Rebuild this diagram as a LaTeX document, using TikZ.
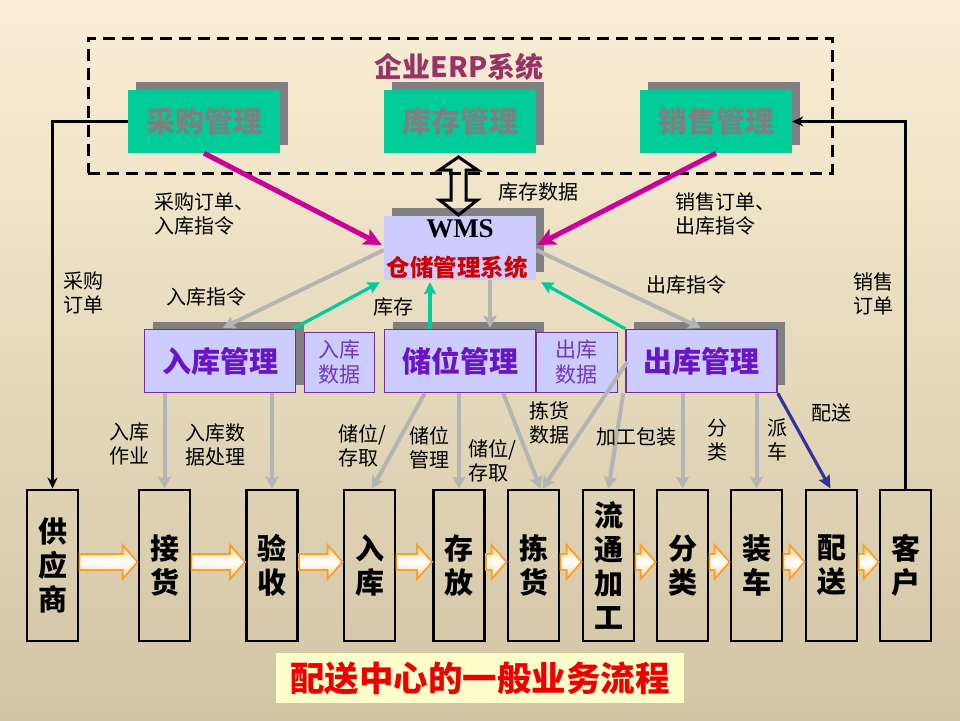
\documentclass[tikz,border=0pt]{standalone}
\usepackage{fontspec}
\setmainfont{Noto Sans CJK SC}
\newfontfamily\wmsfont{Liberation Serif}
\usetikzlibrary{arrows.meta,shadows,calc}
\definecolor{bgtop}{HTML}{FAEFD6}
\definecolor{bgbot}{HTML}{D2C5A4}
\definecolor{erpgreen}{HTML}{00CC99}
\definecolor{boxgray}{HTML}{7F7F7F}
\definecolor{shadowgray}{HTML}{808080}
\definecolor{lav}{HTML}{CCCCFF}
\definecolor{midborder}{HTML}{7030A0}
\definecolor{midtext}{HTML}{6A14C8}
\definecolor{smalltext}{HTML}{7038C0}
\definecolor{erptitle}{HTML}{993366}
\definecolor{wmsred}{HTML}{CC0000}
\definecolor{magentaarr}{HTML}{CC0099}
\definecolor{grayarr}{HTML}{B4B4B4}
\definecolor{greenarr}{HTML}{00CC99}
\definecolor{bluearr}{HTML}{333399}
\definecolor{orangeline}{HTML}{F7A030}
\definecolor{orangefill}{HTML}{FFD58C}
\definecolor{titlefill}{HTML}{FFFFCC}
\definecolor{titlered}{HTML}{EE0000}
\newcommand\blockarrow[2]{%
  \path[barrow] let \p1=(#1.east), \p2=(#2.west) in
    (\x1,{\y1+11.5pt}) -- ({\x2-15pt},{\y1+11.5pt}) -- ({\x2-15pt},{\y1+20.5pt})
    -- (\x2,{\y1+3.5pt}) -- ({\x2-15pt},{\y1-13.5pt}) -- ({\x2-15pt},{\y1-4.5pt})
    -- (\x1,{\y1-4.5pt}) -- cycle;}
\begin{document}
\begin{tikzpicture}[x=1pt,y=-1pt,
  myshadow/.style={general shadow={fill=shadowgray, shadow xshift=8pt, shadow yshift=8pt}},
  erpframe/.style={draw=black, line width=3pt, dash pattern=on 12pt off 7pt, minimum width=744pt, minimum height=135pt, inner sep=0pt},
  erptitlestyle/.style={text=erptitle, font=\bfseries\fontsize{28}{28}\selectfont, inner sep=0pt},
  topbox/.style={myshadow, fill=erpgreen, minimum width=152pt, minimum height=63pt, inner sep=0pt, text=boxgray, font=\bfseries\fontsize{29}{29}\selectfont},
  wmsbox/.style={myshadow, fill=lav, minimum width=152pt, minimum height=64pt, inner sep=0pt},
  midbox/.style={myshadow, fill=lav, draw=midborder, line width=1.5pt, minimum width=151pt, minimum height=63pt, inner sep=0pt, text=midtext, font=\bfseries\fontsize{29}{29}\selectfont},
  smallbox/.style={fill=lav, draw=midborder, line width=1pt, minimum height=60pt, inner sep=0pt, text=smalltext, font=\fontsize{21}{25}\selectfont, align=center},
  btbox/.style={draw=black, line width=2.8pt, minimum width=51pt, minimum height=151pt, inner sep=0pt, font=\bfseries\fontsize{29}{34}\selectfont, align=center},
  lbl/.style={inner sep=0pt, font=\fontsize{20}{24}\selectfont, align=center},
  lbll/.style={inner sep=0pt, font=\fontsize{20}{24}\selectfont, align=left, anchor=west},
  titlebox/.style={fill=titlefill, minimum width=408pt, minimum height=50pt, inner sep=0pt, text=titlered, font=\bfseries\fontsize{34.5}{34.5}\selectfont},
  barrow/.style={draw=orangeline, line width=1.8pt, line join=miter, top color=orangefill, bottom color=orangefill, middle color=white},
  blkarr/.style={draw=black, line width=3pt, -{Stealth[length=11pt,width=10pt]}},
  magarr/.style={draw=magentaarr, line width=5pt, -{Stealth[length=18pt,width=17pt,inset=4pt]}},
  grarr/.style={draw=grayarr, line width=4pt, -{Stealth[length=12pt,width=13pt,inset=2pt]}},
  gnarr/.style={draw=greenarr, line width=3.2pt, -{Stealth[length=12pt,width=12pt,inset=2pt]}},
  blarr/.style={draw=bluearr, line width=3.2pt, -{Stealth[length=13pt,width=12pt,inset=2pt]}},
]
\useasboundingbox (0,0) rectangle (960,720);
\shade[top color=bgtop, bottom color=bgbot] (0,0) rectangle (960,720);

% ERP frame
\node[erpframe] (erp) at (460,105.5) {};
\node[erptitlestyle] (erpt) at (459,67) {企业ERP系统};

% top boxes
\node[topbox] (cg) at (204,121.5) {采购管理};
\node[topbox] (kc) at (460,121.5) {库存管理};
\node[topbox] (xs) at (716,121.5) {销售管理};

% WMS
\node[wmsbox] (wms) at (460,248) {};
\node[font=\wmsfont\bfseries\fontsize{27}{27}\selectfont, inner sep=0pt] (wmst) at (460,229) {WMS};
\node[text=wmsred, font=\bfseries\fontsize{23.5}{24}\selectfont, inner sep=0pt] (wmsc) at (457,268) {仓储管理系统};

% double arrow between 库存管理 and WMS
\draw[black, line width=3pt, line join=miter]
  (458.5,157) -- (477.5,170) -- (466,170) -- (466,200) -- (477.5,200) -- (458.5,215)
  -- (439.5,200) -- (451,200) -- (451,170) -- (439.5,170) -- cycle;

% middle boxes
\node[midbox] (rk) at (220,361) {入库管理};
\node[midbox] (cw) at (460,361) {储位管理};
\node[midbox] (ck) at (701.5,361) {出库管理};
\node[smallbox, minimum width=70pt] (rkd) at (339,362) {入库\\数据};
\node[smallbox, minimum width=81pt] (ckd) at (576.5,362) {出库\\数据};

% bottom boxes
\node[btbox] (gys) at (52.5,565.5) {供\\应\\商};
\node[btbox] (jh) at (164.5,565.5) {接\\货};
\node[btbox] (ys) at (272,565.5) {验\\收};
\node[btbox] (rkb) at (369.5,565.5) {入\\库};
\node[btbox] (cf) at (459,565.5) {存\\放};
\node[btbox] (jhuo) at (533.5,565.5) {拣\\货};
\node[btbox] (lt) at (608.5,565.5) {流\\通\\加\\工};
\node[btbox] (fl) at (682.5,565.5) {分\\类};
\node[btbox] (zc) at (756.5,565.5) {装\\车};
\node[btbox] (ps) at (831.5,565.5) {配\\送};
\node[btbox] (kh) at (905.5,565.5) {客\\户};

% block arrows
\blockarrow{gys}{jh}
\blockarrow{jh}{ys}
\blockarrow{ys}{rkb}
\blockarrow{rkb}{cf}
\blockarrow{cf}{jhuo}
\blockarrow{jhuo}{lt}
\blockarrow{lt}{fl}
\blockarrow{fl}{zc}
\blockarrow{zc}{ps}
\blockarrow{ps}{kh}

% title
\node[titlebox] (title) at (480,678) {配送中心的一般业务流程};

% black order lines
\draw[blkarr] (cg.west) -| (gys.north);
\draw[blkarr] (kh.north) |- (xs.east);

% magenta arrows
\draw[magarr] (cg.south) -- ($(wms.west)+(-2,-3)$);
\draw[magarr] (xs.south) -- ($(wms.east)+(1,-3)$);

% gray arrows WMS -> middle
\draw[grarr] ($(wms.west)+(0,2)$) -- ($(rk.north)+(3,-1)$);
\draw[grarr] ($(wms.east)+(0,2)$) -- ($(ck.north)+(-1,-1)$);
\draw[grarr] ($(wms.south)+(30,0)$) -- ($(cw.north)+(30,-1)$);

% green arrows middle -> WMS
\draw[gnarr] ($(rk.north east)+(-3,0)$) -- ($(wms.south west)+(-4,2)$);
\draw[gnarr] ($(cw.north)+(-30,0)$) -- ($(wms.south)+(-30,2)$);
\draw[gnarr] (ck.north west) -- ($(wms.south east)+(5,2)$);

% gray arrows middle -> bottom
\draw[grarr] (rk.south -| jh.north) -- (jh.north);
\draw[grarr] (rk.south -| ys.north) -- (ys.north);
\draw[grarr] ($(cw.south west)+(41,0)$) -- ($(rkb.north)+(2.5,0)$);
\draw[grarr] (cw.south -| cf.north) -- (cf.north);
\draw[grarr] ($(cw.south east)+(-33,0)$) -- ($(jhuo.north)+(7,0)$);
\draw[grarr] ($(ck.west)+(2,1)$) -- ($(jhuo.north)+(9,0)$);
\draw[grarr] ($(ck.south west)+(-2,0)$) -- (lt.north);
\draw[grarr] (ck.south -| fl.north) -- (fl.north);
\draw[grarr] (ck.south -| zc.north) -- (zc.north);
\draw[blarr] (ck.south east) -- ($(ps.north)+(-1,0)$);

% labels
\node[lbl] (l1) at (83,293) {采购\\订单};
\node[lbl] (l2) at (873,293.5) {销售\\订单};
\node[lbll] (l3) at (154,213.5) {采购订单、\\入库指令};
\node[lbll] (l4) at (675,213.5) {销售订单、\\出库指令};
\node[lbll] (l5) at (498,192) {库存数据};
\node[lbl] (l6) at (206,297) {入库指令};
\node[lbl] (l7) at (393,307) {库存};
\node[lbl] (l8) at (686,285) {出库指令};
\node[lbl] (l9) at (129,444) {入库\\作业};
\node[lbll] (l10) at (185,445) {入库数\\据处理};
\node[lbll] (l11) at (338,445.5) {储位/\\存取};
\node[lbl] (l12) at (429,447.5) {储位\\管理};
\node[lbll] (l13) at (468,460.5) {储位/\\存取};
\node[lbl] (l14) at (549,422.5) {拣货\\数据};
\node[lbl] (l15) at (636,437) {加工包装};
\node[lbl] (l16) at (717,440) {分\\类};
\node[lbl] (l17) at (777,440) {派\\车};
\node[lbl] (l18) at (831,413) {配送};
\end{tikzpicture}
\end{document}
